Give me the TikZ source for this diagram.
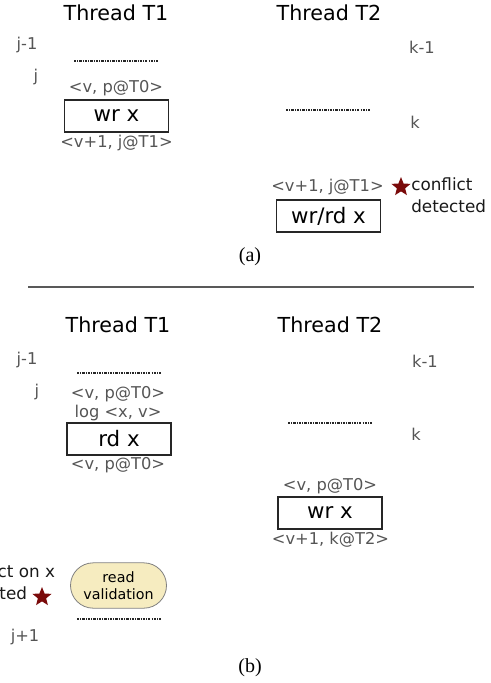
\documentclass[tikz,border=0pt]{standalone}
\usepackage{fontspec}
\setmainfont{DejaVu Sans}
\newfontfamily\capfont{Liberation Serif}
\usetikzlibrary{shapes.geometric,shapes.misc}
\definecolor{lblgray}{HTML}{555555}
\definecolor{starred}{HTML}{7A0A0A}
\definecolor{valfill}{HTML}{F6ECC0}
\definecolor{valdraw}{HTML}{808080}
\tikzset{
  title/.style={font=\fontsize{15.5}{18}\selectfont, inner sep=0pt, text=black},
  lbl/.style={font=\fontsize{12.2}{14.5}\selectfont, inner sep=0pt, text=lblgray},
  opbox/.style={draw=black!85, line width=0.8pt, minimum width=78pt, minimum height=24pt, inner sep=0pt, font=\fontsize{16}{18}\selectfont},
  sepline/.style={dash pattern=on 1.8pt off 0.8pt on 0.7pt off 0.8pt, line width=0.9pt, black!85},
  conf/.style={font=\fontsize{12.6}{16.5}\selectfont, inner sep=0pt, align=left, text=black!90},
  starmark/.style={star, star points=5, star point ratio=2.3, fill=starred, draw=none, minimum size=15pt, inner sep=0pt},
  valbox/.style={rounded rectangle, fill=valfill, draw=valdraw, line width=0.6pt, minimum width=74pt, minimum height=34pt, inner sep=1pt, align=center, font=\fontsize{10.7}{12.5}\selectfont},
  caption/.style={font=\capfont\fontsize{15}{18}\selectfont, inner sep=0pt}
}
\begin{document}
\begin{tikzpicture}[x=0.75pt,y=-0.75pt]
\useasboundingbox (0,0) rectangle (490,683);
% ---------- (a)
\node[title] (at1) at (116,13) {Thread T1};
\node[title] (at2) at (329,13) {Thread T2};
\node[lbl] (ajm) at (27,45) {j-1};
\node[lbl] (aj) at (36,77) {j};
\coordinate (al1a) at (74,61); \coordinate (al1b) at (159,61);
\draw[sepline] (al1a) -- (al1b);
\node[lbl] (av1) at (116,88) {<v, p@T0>};
\node[opbox] (awr) at (116.5,116) {wr x};
\node[lbl] (av2) at (116.5,143) {<v+1, j@T1>};
\node[lbl] (akm) at (422,47) {k-1};
\node[lbl] (ak) at (415,122) {k};
\coordinate (al2a) at (286,110); \coordinate (al2b) at (370,110);
\draw[sepline] (al2a) -- (al2b);
\node[lbl] (av3) at (327.5,187) {<v+1, j@T1>};
\node[starmark] (astar) at (401,187) {};
\node[conf, anchor=north west] (aconf) at (411,177) {conflict\\detected};
\node[opbox] (awrrd) at (328.5,216) {wr/rd x};
\node[caption] (acap) at (250,257) {(a)};
% separator
\coordinate (sepa) at (28,287); \coordinate (sepb) at (474,287);
\draw[line width=1.1pt, black!65] (sepa) -- (sepb);
% ---------- (b)
\node[title] (bt1) at (118,325) {Thread T1};
\node[title] (bt2) at (330,325) {Thread T2};
\node[lbl] (bjm) at (27,360) {j-1};
\node[lbl] (bj) at (37,392) {j};
\coordinate (bl1a) at (77,373); \coordinate (bl1b) at (161,373);
\draw[sepline] (bl1a) -- (bl1b);
\node[lbl] (bv1) at (118,394) {<v, p@T0>};
\node[lbl] (blog) at (118,413) {log <x, v>};
\node[opbox] (brd) at (119,439) {rd x};
\node[lbl] (bv2) at (118,465) {<v, p@T0>};
\node[lbl] (bkm) at (425,361) {k-1};
\node[lbl] (bk) at (416,434) {k};
\coordinate (bl2a) at (288,423); \coordinate (bl2b) at (373,423);
\draw[sepline] (bl2a) -- (bl2b);
\node[lbl] (bv3) at (330,486) {<v, p@T0>};
\node[opbox] (bwr) at (330,513) {wr x};
\node[lbl] (bv4) at (330.5,540) {<v+1, k@T2>};
\node[conf, anchor=north west] (bconf) at (-48,564) {conflict on x\\detected};
\node[starmark] (bstar) at (42,597) {};
\node[valbox] (bval) at (118.5,585.5) {read\\validation};
\coordinate (bl3a) at (77,619); \coordinate (bl3b) at (161,619);
\draw[sepline] (bl3a) -- (bl3b);
\node[lbl] (bjp) at (25,637) {j+1};
\node[caption] (bcap) at (250,668) {(b)};
\end{tikzpicture}
\end{document}
